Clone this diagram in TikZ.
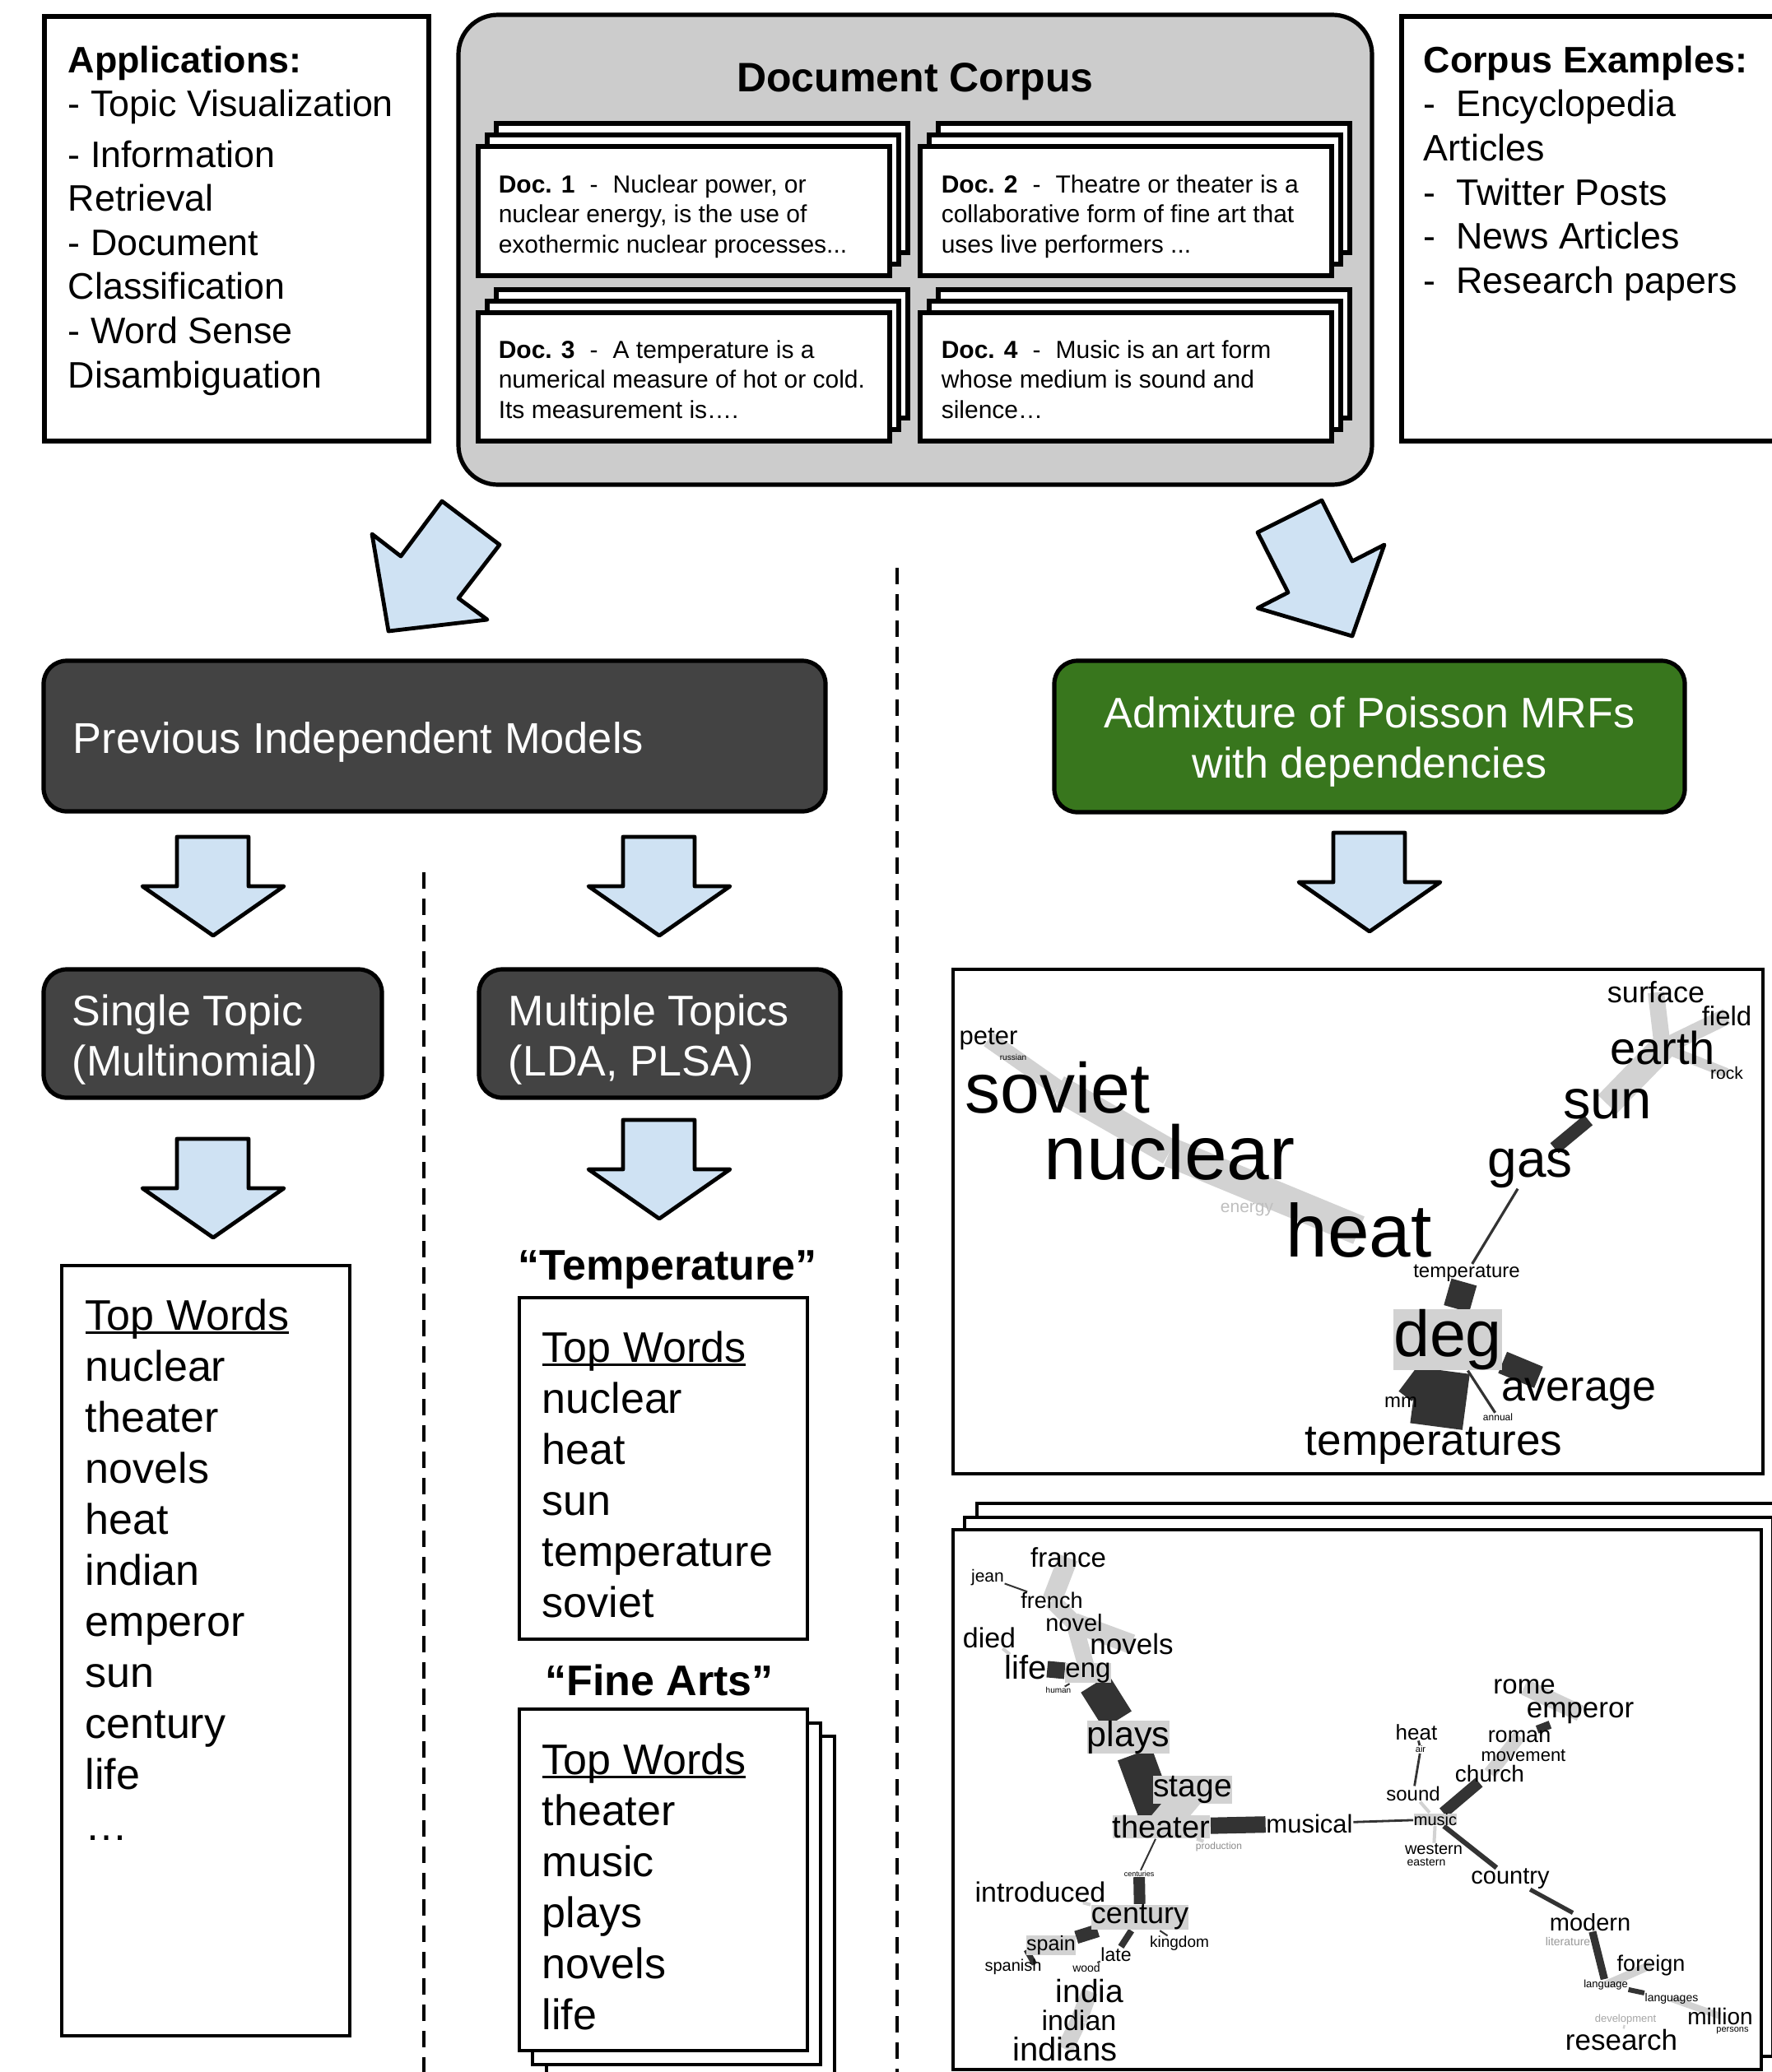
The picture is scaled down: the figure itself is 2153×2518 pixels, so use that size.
\documentclass[tikz,border=0pt]{standalone}
\usepackage{fontspec}
\setmainfont{Liberation Sans}
\usepackage{tikz}
\usepackage{xcolor}
\usetikzlibrary{backgrounds}

\definecolor{arrowblue}{HTML}{CFE2F3}
\definecolor{boxdark}{HTML}{434343}
\definecolor{boxgreen}{HTML}{38761D}
\definecolor{corpusgray}{HTML}{CCCCCC}
\definecolor{bandlight}{HTML}{D2D2D2}
\definecolor{banddark}{HTML}{333333}

% underline that sits close to the baseline
\newcommand{\ulword}[1]{\setbox0=\hbox{#1}\rlap{\rule[-0.09em]{\wd0}{0.055em}}\box0}

\begin{document}
\begin{tikzpicture}[x=0.25pt,y=0.25pt,yscale=-1,xscale=1,
  card/.style={draw, line width=1.3pt, fill=white},
  wordbox/.style={draw, line width=1.1pt, fill=white},
  panel/.style={draw, line width=0.8pt, fill=white},
  blockarrow/.style={draw, line width=1.2pt, fill=arrowblue, line join=round},
  modelbox/.style={draw, line width=1.3pt, rounded corners=7pt},
  divider/.style={line width=1pt, dash pattern=on 5pt off 3pt},
  txt/.style={inner sep=0pt, align=left},
  wd/.style={inner sep=0pt, font=\fontsize{#1}{#1}\selectfont},
  patch/.style={fill=bandlight},
  lightband/.style={draw=bandlight, line width=#1},
  darkband/.style={draw=banddark, line width=#1}]
\useasboundingbox (0,0) rectangle (2153,2518);

%Shape: Rectangle
\draw [line width=1.3pt] (54,20) rectangle (521,536) ;
%Shape: Rectangle
\draw [line width=1.3pt] (1703,20) rectangle (2175,536) ;
%Shape: Rounded Rect
\draw [line width=1.3pt, fill=corpusgray, rounded corners=12pt] (557,18) rectangle (1667,589) ;

%Shape: Rectangle (doc 1 stack)
\draw [card] (603,150) rectangle (1103,307) ;
\draw [card] (592,164) rectangle (1092,321) ;
\draw [card] (581,178) rectangle (1081,335) ;
%Shape: Rectangle (doc 2 stack)
\draw [card] (1140,150) rectangle (1640,307) ;
\draw [card] (1129,164) rectangle (1629,321) ;
\draw [card] (1118,178) rectangle (1618,335) ;
%Shape: Rectangle (doc 3 stack)
\draw [card] (603,352) rectangle (1103,508) ;
\draw [card] (592,366) rectangle (1092,522) ;
\draw [card] (581,380) rectangle (1081,536) ;
%Shape: Rectangle (doc 4 stack)
\draw [card] (1140,352) rectangle (1640,508) ;
\draw [card] (1129,366) rectangle (1629,522) ;
\draw [card] (1118,380) rectangle (1618,536) ;

% Text Node
\node [txt, anchor=north west, font=\fontsize{11.2}{13.4}\selectfont] (apps) at (82,55) {\textbf{Applications:}\\- Topic Visualization\\[1.9pt]- Information\\Retrieval\\- Document\\Classification\\- Word Sense\\Disambiguation};
% Text Node
\node [txt, anchor=north west, font=\fontsize{11.2}{13.4}\selectfont] (examples) at (1729,55) {\textbf{Corpus Examples:}\\-~~Encyclopedia\\Articles\\-~~Twitter Posts\\-~~News Articles\\-~~Research papers};
% Text Node
\node [inner sep=0pt, anchor=base, font=\fontsize{12.5}{15}\selectfont\bfseries] (corpus) at (1112,111) {Document Corpus};
% Text Node
\node [txt, anchor=north west, font=\fontsize{7.5}{9.1}\selectfont] (doc1) at (605,212) {\textbf{Doc. 1}\hspace{0.6em}-\hspace{0.6em}Nuclear power, or\\nuclear energy, is the use of\\exothermic nuclear processes...};
% Text Node
\node [txt, anchor=north west, font=\fontsize{7.5}{9.1}\selectfont] (doc2) at (1143,212) {\textbf{Doc. 2}\hspace{0.6em}-\hspace{0.6em}Theatre or theater is a\\collaborative form of fine art that\\uses live performers ...};
% Text Node
\node [txt, anchor=north west, font=\fontsize{7.5}{9.1}\selectfont] (doc3) at (605,413) {\textbf{Doc. 3}\hspace{0.6em}-\hspace{0.6em}A temperature is a\\numerical measure of hot or cold.\\Its measurement is….};
% Text Node
\node [txt, anchor=north west, font=\fontsize{7.5}{9.1}\selectfont] (doc4) at (1143,413) {\textbf{Doc. 4}\hspace{0.6em}-\hspace{0.6em}Music is an art form\\whose medium is sound and\\silence…};

%Shape: Polygon (arrows from the corpus)
\draw [blockarrow] (537,609) -- (607,662) -- (557,727) -- (592,753) -- (472,767) -- (452,649) -- (487,676) -- cycle ;
\draw [blockarrow] (1528,647) -- (1606,608) -- (1643,682) -- (1682,662) -- (1643,773) -- (1528,739) -- (1565,720) -- cycle ;

%Straight Lines
\draw [divider] (1090,690) -- (1090,2518) ;
%Straight Lines
\draw [divider] (515,1060) -- (515,2518) ;

%Shape: Rounded Rect
\draw [modelbox, fill=boxdark] (53,803) rectangle (1003,986) ;
%Shape: Rounded Rect
\draw [modelbox, fill=boxgreen] (1281,803) rectangle (2047,987) ;
%Shape: Rounded Rect
\draw [modelbox, fill=boxdark] (53,1178) rectangle (464,1334) ;
%Shape: Rounded Rect
\draw [modelbox, fill=boxdark] (582,1178) rectangle (1021,1334) ;

% Text Node
\node [inner sep=0pt, anchor=base west, text=white, font=\fontsize{13.1}{15.25}\selectfont] (previous) at (88,915) {Previous Independent Models};
% Text Node
\node [inner sep=0pt, anchor=north, align=center, text=white, font=\fontsize{13}{15.25}\selectfont] (admixture) at (1664,846) {Admixture of Poisson MRFs\\with dependencies};
% Text Node
\node [txt, anchor=north west, text=white, font=\fontsize{13}{15.25}\selectfont] (single) at (87,1208) {Single Topic\\(Multinomial)};
% Text Node
\node [txt, anchor=north west, text=white, font=\fontsize{13}{15.25}\selectfont] (multiple) at (617,1208) {Multiple Topics\\(LDA, PLSA)};

%Shape: Down Arrow
\draw [blockarrow] (215,1017) -- (302,1017) -- (302,1077) -- (345,1077) -- (259,1137) -- (173,1077) -- (215,1077) -- cycle ;
%Shape: Down Arrow
\draw [blockarrow] (757,1017) -- (844,1017) -- (844,1077) -- (887,1077) -- (801,1137) -- (715,1077) -- (757,1077) -- cycle ;
%Shape: Down Arrow
\draw [blockarrow] (1620,1012) -- (1707,1012) -- (1707,1072) -- (1750,1072) -- (1664,1132) -- (1578,1072) -- (1620,1072) -- cycle ;
%Shape: Down Arrow
\draw [blockarrow] (215,1384) -- (302,1384) -- (302,1444) -- (345,1444) -- (259,1504) -- (173,1444) -- (215,1444) -- cycle ;
%Shape: Down Arrow
\draw [blockarrow] (757,1361) -- (844,1361) -- (844,1421) -- (887,1421) -- (801,1481) -- (715,1421) -- (757,1421) -- cycle ;

%Shape: Rectangle
\draw [wordbox] (75,1538) rectangle (425,2474) ;
%Shape: Rectangle
\draw [wordbox] (631,1577) rectangle (981,1992) ;
%Shape: Rectangle (fine arts stack)
\draw [wordbox] (664,2110) rectangle (1014,2525) ;
\draw [wordbox] (647,2094) rectangle (997,2509) ;
\draw [wordbox] (631,2077) rectangle (981,2492) ;

% Text Node
\node [txt, anchor=north west, font=\fontsize{13}{15.5}\selectfont] (singlewords) at (103,1578) {\ulword{Top Words}\\nuclear\\theater\\novels\\heat\\indian\\emperor\\sun\\century\\life\\…};
% Text Node
\node [inner sep=0pt, anchor=base, font=\fontsize{13}{15.5}\selectfont\bfseries] (templabel) at (811,1555) {“Temperature”};
% Text Node
\node [txt, anchor=north west, font=\fontsize{13}{15.5}\selectfont] (tempwords) at (658,1617) {\ulword{Top Words}\\nuclear\\heat\\sun\\temperature\\soviet};
% Text Node
\node [inner sep=0pt, anchor=base, font=\fontsize{13}{15.5}\selectfont\bfseries] (artslabel) at (801,2060) {“Fine Arts”};
% Text Node
\node [txt, anchor=north west, font=\fontsize{13}{15.5}\selectfont] (artswords) at (658,2118) {\ulword{Top Words}\\theater\\music\\plays\\novels\\life};

% Word graph: temperature topic
\node [wd=7.75] (t-peter) at (1201,1263) {peter};
\node [wd=2.5] (t-russian) at (1231,1285) {russian};
\node [wd=21.5] (t-soviet) at (1285,1322) {soviet};
\node [wd=23.25] (t-nuclear) at (1421,1400) {nuclear};
\node [wd=5.25, text=black!25] (t-energy) at (1515,1470) {energy};
\node [wd=22.75] (t-heat) at (1651,1495) {heat};
\node [wd=6] (t-temperature) at (1782,1547) {temperature};
\node [wd=16] (t-gas) at (1859,1420) {gas};
\node [wd=16.75] (t-sun) at (1953,1342) {sun};
\node [wd=14] (t-earth) at (2020,1273) {earth};
\node [wd=9] (t-surface) at (2012,1206) {surface};
\node [wd=8.25] (t-field) at (2098,1235) {field};
\node [wd=5.25] (t-rock) at (2098,1304) {rock};
\node [wd=19.75, patch] (t-deg) at (1759,1628) {deg};
\node [wd=13] (t-average) at (1918,1694) {average};
\node [wd=6] (t-mm) at (1702,1704) {mm};
\node [wd=3] (t-annual) at (1820,1722) {annual};
\node [wd=13.25] (t-temperatures) at (1742,1757) {temperatures};

% Word graph: fine arts topic
\node [wd=8.25] (f-france) at (1298,1893) {france};
\node [wd=5.25] (f-jean) at (1200,1917) {jean};
\node [wd=6.75] (f-french) at (1278,1945) {french};
\node [wd=7.25] (f-novel) at (1305,1972) {novel};
\node [wd=8.5] (f-died) at (1202,1990) {died};
\node [wd=8.75] (f-novels) at (1375,1998) {novels};
\node [wd=10] (f-life) at (1246,2026) {life};
\node [wd=8.25, patch] (f-eng) at (1322,2033) {eng};
\node [wd=2.5] (f-human) at (1286,2054) {human};
\node [wd=10.75, patch] (f-plays) at (1371,2111) {plays};
\node [wd=9.75, patch] (f-stage) at (1449,2175) {stage};
\node [wd=9.5, patch] (f-theater) at (1411,2220) {theater};
\node [wd=3, text=black!45] (f-production) at (1481,2244) {production};
\node [wd=7.75] (f-musical) at (1591,2216) {musical};
\node [wd=2.25] (f-centuries) at (1384,2277) {centuries};
\node [wd=8.5] (f-introduced) at (1264,2299) {introduced};
\node [wd=9, patch] (f-century) at (1385,2330) {century};
\node [wd=4.75] (f-kingdom) at (1433,2362) {kingdom};
\node [wd=6.25, patch] (f-spain) at (1277,2364) {spain};
\node [wd=5.75] (f-late) at (1356,2375) {late};
\node [wd=5] (f-spanish) at (1231,2390) {spanish};
\node [wd=3.5] (f-wood) at (1320,2391) {wood};
\node [wd=9.75] (f-india) at (1324,2420) {india};
\node [wd=8.5] (f-indian) at (1311,2455) {indian};
\node [wd=10] (f-indians) at (1294,2490) {indians};
\node [wd=6.5] (f-heat) at (1721,2105) {heat};
\node [wd=2.75] (f-air) at (1726,2126) {air};
\node [wd=6] (f-sound) at (1717,2180) {sound};
\node [wd=5, patch] (f-music) at (1744,2211) {music};
\node [wd=5] (f-western) at (1742,2247) {western};
\node [wd=3.5] (f-eastern) at (1733,2263) {eastern};
\node [wd=8.25] (f-rome) at (1852,2050) {rome};
\node [wd=8.75] (f-emperor) at (1920,2082) {emperor};
\node [wd=6.75] (f-roman) at (1846,2110) {roman};
\node [wd=5.5] (f-movement) at (1851,2133) {movement};
\node [wd=7] (f-church) at (1810,2155) {church};
\node [wd=7.25] (f-country) at (1835,2283) {country};
\node [wd=7.25] (f-modern) at (1932,2336) {modern};
\node [wd=3.5, text=black!40] (f-literature) at (1905,2359) {literature};
\node [wd=6.75] (f-foreign) at (2006,2388) {foreign};
\node [wd=3.25] (f-language) at (1951,2412) {language};
\node [wd=3.5] (f-languages) at (2031,2429) {languages};
\node [wd=3.25, text=black!35] (f-development) at (1975,2454) {development};
\node [wd=7] (f-million) at (2090,2450) {million};
\node [wd=2.75] (f-persons) at (2105,2468) {persons};
\node [wd=8.75] (f-research) at (1970,2479) {research};

\begin{pgfonlayer}{background}
%Shape: Rectangle (panels)
\draw [panel] (1158,1178) rectangle (2142,1791) ;
\draw [panel] (1187,1827) rectangle (2169,2483) ;
\draw [panel] (1172,1844) rectangle (2154,2499) ;
\draw [panel] (1158,1859) rectangle (2140,2515) ;

%Straight Lines (temperature topic)
\draw [lightband=5pt] (t-peter.center) -- (t-soviet.center) ;
\draw [lightband=8pt] (t-soviet.center) -- (t-nuclear.center) ;
\draw [lightband=9pt] (t-nuclear.center) -- (t-heat.center) ;
\draw [darkband=8pt] (t-temperature) -- (t-deg) ;
\draw [darkband=0.8pt] (t-temperature) -- (t-gas) ;
\draw [darkband=4pt] (t-gas) -- (t-sun) ;
\draw [lightband=8pt] (t-sun.center) -- (t-earth.center) ;
\draw [lightband=5pt] (t-earth.center) -- (t-surface.center) ;
\draw [lightband=5pt] (t-earth.center) -- (t-field.center) ;
\draw [lightband=3pt] (t-earth.center) -- (t-rock.center) ;
\draw [darkband=16pt] (t-deg) -- (t-temperatures) ;
\draw [darkband=7pt] (t-deg) -- (t-average) ;
\draw [darkband=5pt] (t-deg) -- (t-mm) ;
\draw [darkband=0.8pt] (t-deg) -- (t-annual) ;

%Straight Lines (fine arts topic)
\draw [lightband=6pt] (f-france.center) -- (f-french.center) ;
\draw [darkband=0.5pt] (f-jean) -- (f-french) ;
\draw [lightband=5pt] (f-french.center) -- (f-novel.center) ;
\draw [lightband=6pt] (f-novel.center) -- (f-novels.center) ;
\draw [lightband=5pt] (f-novel.center) -- (f-eng.center) ;
\draw [lightband=1pt] (f-died) -- (f-life) ;
\draw [darkband=5pt] (f-life) -- (f-eng) ;
\draw [darkband=0.5pt] (f-human) -- (f-eng) ;
\draw [darkband=10pt] (f-eng) -- (f-plays) ;
\draw [darkband=11pt] (f-plays) -- (f-theater) ;
\draw [lightband=9pt] (f-stage.center) -- (f-theater.center) ;
\draw [darkband=5pt] (f-theater) -- (f-musical) ;
\draw [lightband=1pt] (f-theater) -- (f-production) ;
\draw [darkband=0.7pt] (f-musical) -- (f-music) ;
\draw [darkband=0.7pt] (f-heat) -- (f-air) ;
\draw [darkband=0.7pt] (f-air) -- (f-sound) ;
\draw [lightband=1pt] (f-sound) -- (f-music) ;
\draw [darkband=3.5pt] (f-music) -- (f-church) ;
\draw [lightband=4pt] (f-church.center) -- (f-roman.center) ;
\draw [darkband=2.5pt] (f-roman) -- (f-emperor) ;
\draw [lightband=5pt] (f-rome.center) -- (f-emperor.center) ;
\draw [lightband=1pt] (f-music) -- (f-western) ;
\draw [darkband=1.5pt] (f-music) -- (f-country) ;
\draw [darkband=1.3pt] (f-country) -- (f-modern) ;
\draw [darkband=2.3pt] (f-modern) -- (f-language) ;
\draw [lightband=2.5pt] (f-language.center) -- (f-foreign.center) ;
\draw [darkband=1.5pt] (f-language) -- (f-languages) ;
\draw [lightband=2pt] (f-languages.center) -- (f-million.center) ;
\draw [lightband=0.6pt] (f-development) -- (f-research) ;
\draw [darkband=0.5pt] (f-theater) -- (f-centuries) ;
\draw [darkband=3.5pt] (f-centuries) -- (f-century) ;
\draw [darkband=4pt] (f-century) -- (f-spain) ;
\draw [darkband=5pt] (f-spain) -- (f-spanish) ;
\draw [darkband=2pt] (f-century) -- (f-late) ;
\draw [darkband=0.5pt] (f-late) -- (f-wood) ;
\draw [darkband=0.5pt] (f-century) -- (f-kingdom) ;
\draw [lightband=1pt] (f-introduced) -- (f-century) ;
\draw [lightband=5pt] (f-india.center) -- (f-indian.center) ;
\draw [lightband=5pt] (f-indian.center) -- (f-indians.center) ;
\end{pgfonlayer}

\end{tikzpicture}
\end{document}
